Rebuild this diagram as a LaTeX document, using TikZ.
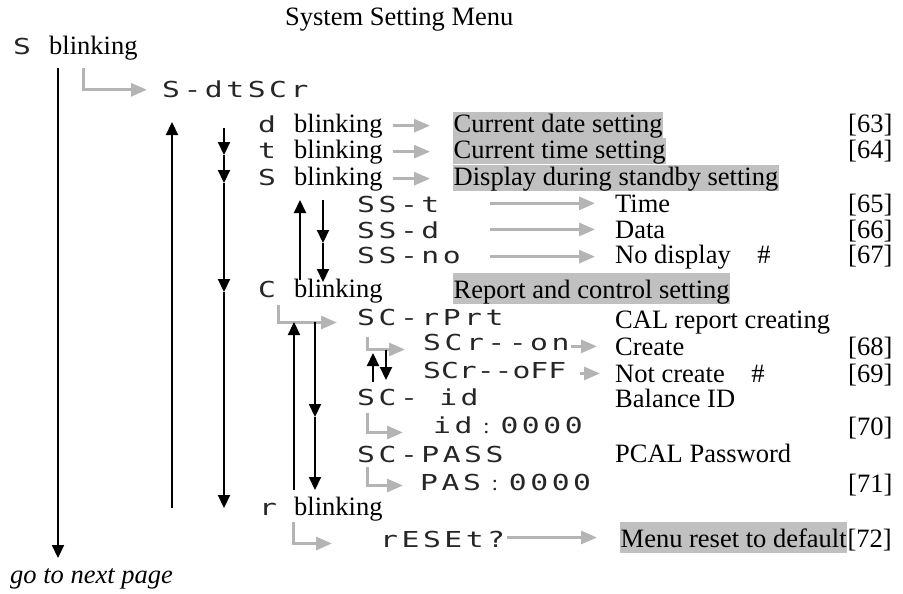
\documentclass[tikz,border=0pt]{standalone}
\usepackage{fontspec}
\setmainfont{Liberation Serif}
\newfontfamily\lcd[FakeStretch=1.35, LetterSpace=16]{DejaVu Sans Mono}
\usetikzlibrary{arrows.meta, positioning}
\definecolor{arrowgray}{RGB}{180,180,180}
\definecolor{boxgray}{RGB}{192,192,192}

\begin{document}
\begin{tikzpicture}[x=1pt, y=-1pt,
  txt/.style={anchor=base west, inner sep=0pt, font=\fontsize{26.5}{28}\selectfont},
  seg/.style={anchor=base west, inner sep=0pt, text=black!85, font=\fontsize{22}{22}\lcd},
  hilite/.style={txt, fill=boxgray, inner xsep=0.5pt, inner ysep=0pt, text height=20pt, text depth=6pt},
  nav/.style={line width=2.2pt, -{Triangle[length=13pt, width=12pt]}},
  go/.style={arrowgray, line width=3pt, -{Triangle[length=16pt, width=13pt]}}]
  \useasboundingbox (0,0) rectangle (903,594);
  \node[txt] (title) at (285,26) {System Setting Menu};
  % top level
  \node[seg] (keys) at (13,55) {S};
  \node[txt] (blinks) at (49,55) {blinking};
  \node[seg] (sdtscr) at (162,98) {S-dtSCr};
  \foreach \n/\c/\y/\lab/\pg in {d/d/132/Current date setting/[63], t/t/158/Current time setting/[64], s/S/185/Display during standby setting/{}} {
    \node[seg] (key\n) at (258,\y) {\c};
    \node[txt] (blink\n) at (294,\y) {blinking};
    \node[hilite] (set\n) at (453,\y) {\lab};
    \node[txt] (pg\n) at (848,\y) {\pg};
    \draw[go, shorten <=10pt, shorten >=23pt] (blink\n.east) -- (blink\n.east -| set\n.west);
  }
  % standby display
  \foreach \n/\code/\y/\lab/\pg in {t/SS-t/212/Time/[65], d/SS-d/238/Data/[66], n/SS-no/263/{No display\quad\#}/[67]} {
    \node[seg] (ss\n) at (357,\y) {\code};
    \node[txt] (opt\n) at (615,\y) {\lab};
    \node[txt] (pgs\n) at (848,\y) {\pg};
    \draw[go, shorten >=20pt] ([xshift=-125pt]opt\n.west) -- (opt\n.west);
  }
  % report and control
  \node[seg] (keyc) at (258,297) {C};
  \node[txt] (blinkc) at (294,297) {blinking};
  \node[hilite, text height=25pt] (setc) at (453,298) {Report and control setting};
  \node[seg] (rprt) at (357,325) {SC-rPrt};
  \node[txt] (cal) at (615,328) {CAL report creating};
  \node[seg] (rpon) at (423,350) {SCr--on};
  \node[txt] (create) at (615,355) {Create};
  \node[txt] (pg68) at (848,355) {[68]};
  \node[seg, font=\fontsize{22}{22}\lcd\addfontfeature{LetterSpace=0}] (rpoff) at (423,378) {SCr--oFF};
  \node[txt] (nocreate) at (615,382) {Not create\quad\#};
  \node[txt] (pg69) at (848,382) {[69]};
  \node[seg] (scid) at (357,405) {SC- id};
  \node[txt] (balid) at (615,407) {Balance ID};
  \node[seg] (idval) at (433,433) {id{\rmfamily\enspace:\enspace}0000};
  \node[txt] (pg70) at (848,435) {[70]};
  \node[seg] (scpass) at (357,462) {SC-PASS};
  \node[txt] (pcal) at (615,462) {PCAL Password};
  \node[seg] (pasval) at (420,490) {PAS{\rmfamily\enspace:\enspace}0000};
  \node[txt] (pg71) at (848,492) {[71]};
  % reset
  \node[seg] (keyr) at (259,515) {r};
  \node[txt] (blinkr) at (294,515) {blinking};
  \node[seg] (reset) at (380,547) {rESEt?};
  \node[hilite, text height=25pt] (menu) at (620,547) {Menu reset to default};
  \node[txt] (pg72) at (menu.base east) {[72]};
  \node[txt, font=\fontsize{26.5}{28}\selectfont\itshape] (next) at (10,583) {go to next page};
  % gray connectors
  \coordinate (gs) at (83,68);
  \coordinate (gc) at (278,305);
  \coordinate (gp) at (367,337);
  \coordinate (gi) at (367,413);
  \coordinate (gw) at (367,467);
  \coordinate (gr) at (293,522);
  \draw[go, shorten >=15pt] (gs) |- (sdtscr.west);
  \draw[go, shorten >=20pt] (gc) |- ([yshift=3pt]rprt.south west);
  \draw[go, shorten >=18pt] (gp) |- ([yshift=1pt]rpon.south west);
  \draw[go, shorten >=30pt] (gi) |- ([yshift=1pt]idval.south west);
  \draw[go, shorten >=17pt] (gw) |- ([yshift=5pt]pasval.south west);
  \draw[go, shorten >=48pt] (gr) |- ([yshift=4pt]reset.south west);
  \draw[go, shorten >=18pt] ([xshift=-44pt]create.west) -- (create.west);
  \draw[go, shorten >=15pt] ([xshift=-35pt]nocreate.west) -- (nocreate.west);
  \draw[go, shorten >=23pt] ([xshift=-113pt]menu.west) -- (menu.west);
  % black navigation arrows
  \foreach \n/\x/\y in {a0/58/68, a1/58/558, b0/172/508, b1/172/122,
      c0/224/128, c1/224/155, c2/224/183, c3/224/292, c4/224/508,
      d0/300/280, d1/300/200, e0/323/200, e1/323/243, e2/323/282,
      f0/294/490, f1/294/322, g0/315/322, g1/315/417, g2/315/490,
      h0/373/382, h1/373/353, i0/386/350, i1/386/380}
    \coordinate (\n) at (\x,\y);
  \foreach \p/\q in {a0/a1, b0/b1, c0/c1, c1/c2, c2/c3, c3/c4, d0/d1, e0/e1, e1/e2,
      f0/f1, g0/g1, g1/g2, h0/h1, i0/i1}
    \draw[nav] (\p) -- (\q);
\end{tikzpicture}
\end{document}
